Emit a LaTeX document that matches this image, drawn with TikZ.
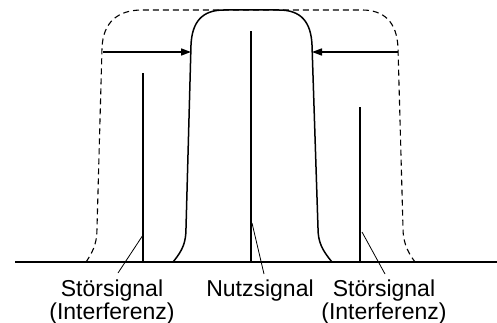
\documentclass[tikz,border=0pt]{standalone}
\usepackage{fontspec}
\setmainfont{Liberation Sans}
\usetikzlibrary{arrows.meta}

\begin{document}
\begin{tikzpicture}[x=1pt, y=-1pt,
		signal/.style={line width=2pt},
		filterline/.style={line width=1.5pt, line join=round},
		leader/.style={line width=0.8pt},
		pusharrow/.style={line width=1.6pt, -{Triangle[length=10pt, width=7pt]}},
		lbl/.style={font=\fontsize{23}{20}\selectfont, align=center, inner sep=0pt, anchor=north}]
		\useasboundingbox (0,0) rectangle (497,323);
		% Grundlinie
		\draw[line width=2pt] (15,262) -- (497,262);
		% breites Filter (gestrichelt)
		\draw[line width=1.1pt, dash pattern=on 6pt off 4pt] (86,262) .. controls (95,249) and (97,240) .. (97,228)
		-- (102,48) .. controls (103,22) and (118,10) .. (142,10) -- (362,10)
		.. controls (384,10) and (397,22) .. (398,48) -- (403,228)
		.. controls (403,240) and (406,250) .. (415,262);
		% schmales Filter
		\draw[filterline] (173,262) .. controls (183,250) and (186,242) .. (186,228)
		-- (191,45) .. controls (192,22) and (202,10) .. (224,10) -- (279,10)
		.. controls (301,10) and (311,22) .. (312,45) -- (318,228)
		.. controls (318,242) and (322,250) .. (332,262);
		% Pfeile
		\coordinate (aL) at (103,52);
		\coordinate (bL) at (191,52);
		\coordinate (aR) at (398,52);
		\coordinate (bR) at (312,52);
		\draw[pusharrow] (aL) -- (bL);
		\draw[pusharrow] (aR) -- (bR);
		% Signale
		\coordinate (stoerL) at (143,262);
		\coordinate (nutz) at (251,262);
		\coordinate (stoerR) at (360,262);
		\draw[signal] (stoerL) -- (143,73);
		\draw[signal] (nutz) -- (251,31);
		\draw[signal] (stoerR) -- (360,107);
		% Beschriftung
		\node[lbl] (lblL) at (112,280) {Störsignal\\(Interferenz)};
		\node[lbl] (lblM) at (260,280) {Nutzsignal};
		\node[lbl] (lblR) at (384,280) {Störsignal\\(Interferenz)};
		\coordinate (endL) at (118,273);
		\coordinate (endM) at (264,274);
		\coordinate (endR) at (385,274);
		\draw[leader] (143,235) -- (endL);
		\draw[leader] (252,223) -- (endM);
		\draw[leader] (362,232) -- (endR);
	\end{tikzpicture}
\end{document}
